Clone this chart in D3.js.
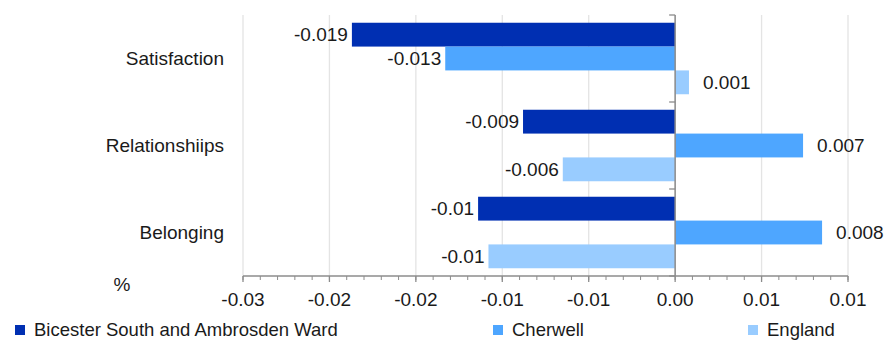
<!DOCTYPE html>
<html>
<head>
<meta charset="utf-8">
<script src="https://cdn.jsdelivr.net/npm/d3@7"></script>
<style>
  html, body { margin: 0; padding: 0; background: #fff; }
  svg { display: block; font-family: "Liberation Sans", Arial, sans-serif; }
</style>
</head>
<body>
<svg id="chart" width="886" height="342"></svg>
<script>
const categories = ["Satisfaction", "Relationshiips", "Belonging"];
const seriesNames = ["Bicester South and Ambrosden Ward", "Cherwell", "England"];
const wardValues = [-0.0187, -0.0088, -0.0114];
const cherwellValues = [-0.0133, 0.0074, 0.0085];
const englandValues = [0.0008, -0.0065, -0.0108];
const wardLabels = ["-0.019", "-0.009", "-0.01"];
const cherwellLabels = ["-0.013", "0.007", "0.008"];
const englandLabels = ["0.001", "-0.006", "-0.01"];
const tickValues = [-0.025, -0.02, -0.015, -0.01, -0.005, 0, 0.005, 0.01];
const tickLabels = ["-0.03", "-0.02", "-0.02", "-0.01", "-0.01", "0.00", "0.01", "0.01"];
const colors = ["#002FB2", "#4EA6FF", "#99CCFF"];

const FS = 19;
const svg = d3.select("#chart");
const plot = { left: 243, right: 848, top: 15, bottom: 276 };

const x = d3.scaleLinear().domain([-0.025, 0.01]).range([plot.left, plot.right]);
const y0 = d3.scaleBand().domain(categories).range([plot.top, plot.bottom]).padding(0);
const bw = y0.bandwidth();
const y1 = d3.scaleBand().domain(seriesNames).range([bw * 0.089, bw * 0.911]).padding(0);

const series = [
  { name: seriesNames[0], values: wardValues, labels: wardLabels, color: colors[0] },
  { name: seriesNames[1], values: cherwellValues, labels: cherwellLabels, color: colors[1] },
  { name: seriesNames[2], values: englandValues, labels: englandLabels, color: colors[2] }
];

// gridlines
svg.append("g").selectAll("line").data(tickValues).join("line")
  .attr("x1", d => x(d)).attr("x2", d => x(d))
  .attr("y1", plot.top).attr("y2", plot.bottom)
  .attr("stroke", "#e4e4e4").attr("stroke-width", 1.3);

// bars
const rows = [];
series.forEach(s => s.values.forEach((v, i) => rows.push({ s, cat: categories[i], v, label: s.labels[i] })));

svg.append("g").selectAll("rect").data(rows).join("rect")
  .attr("x", d => Math.min(x(0), x(d.v)))
  .attr("width", d => Math.abs(x(d.v) - x(0)))
  .attr("y", d => y0(d.cat) + y1(d.s.name))
  .attr("height", y1.bandwidth())
  .attr("fill", d => d.s.color);

// value labels
svg.append("g").selectAll("text").data(rows).join("text")
  .attr("x", d => d.v < 0 ? x(d.v) - 4 : x(d.v) + 14)
  .attr("y", d => y0(d.cat) + y1(d.s.name) + y1.bandwidth() / 2)
  .attr("dy", "0.35em")
  .attr("text-anchor", d => d.v < 0 ? "end" : "start")
  .attr("font-size", FS).attr("fill", "#1a1a1a")
  .text(d => d.label);

// x axis
const xAxis = svg.append("g").attr("transform", `translate(0,${plot.bottom})`);
xAxis.append("line").attr("x1", plot.left).attr("x2", plot.right).attr("stroke", "#8c8c8c").attr("stroke-width", 1.5);
const minor = d3.range(-25, 11).map(k => k / 1000);
xAxis.selectAll("line.minor").data(minor).join("line").attr("class", "minor")
  .attr("x1", d => x(d)).attr("x2", d => x(d)).attr("y1", 0).attr("y2", 4)
  .attr("stroke", "#8c8c8c").attr("stroke-width", 1);
xAxis.selectAll("line.major").data(tickValues).join("line").attr("class", "major")
  .attr("x1", d => x(d)).attr("x2", d => x(d)).attr("y1", 0).attr("y2", 6)
  .attr("stroke", "#8c8c8c").attr("stroke-width", 1.3);
xAxis.selectAll("text").data(tickValues).join("text")
  .attr("x", d => x(d)).attr("y", 23).attr("dy", "0.35em")
  .attr("text-anchor", "middle").attr("font-size", FS).attr("fill", "#1a1a1a")
  .text((d, i) => tickLabels[i]);

// y axis at zero
const yAxis = svg.append("g");
yAxis.append("line").attr("x1", x(0)).attr("x2", x(0)).attr("y1", plot.top).attr("y2", plot.bottom)
  .attr("stroke", "#8c8c8c").attr("stroke-width", 1.5);
const bounds = categories.map(c => y0(c)).concat([plot.bottom]);
yAxis.selectAll("line.t").data(bounds).join("line").attr("class", "t")
  .attr("x1", x(0) - 6).attr("x2", x(0)).attr("y1", d => d).attr("y2", d => d)
  .attr("stroke", "#8c8c8c").attr("stroke-width", 1.3);

// category labels
svg.append("g").selectAll("text").data(categories).join("text")
  .attr("x", 224).attr("y", d => y0(d) + bw / 2).attr("dy", "0.35em")
  .attr("text-anchor", "end").attr("font-size", FS).attr("fill", "#1a1a1a")
  .text(d => d);

// unit label
svg.append("text").attr("x", 122).attr("y", 284).attr("dy", "0.35em")
  .attr("text-anchor", "middle").attr("font-size", FS).attr("fill", "#1a1a1a").text("%");

// legend
const legendX = [15, 493, 748];
const legend = svg.append("g").selectAll("g").data(series).join("g")
  .attr("transform", (d, i) => `translate(${legendX[i]},330)`);
legend.append("rect").attr("x", 0).attr("y", -5).attr("width", 10).attr("height", 10).attr("fill", d => d.color);
legend.append("text").attr("x", 19).attr("y", 0).attr("dy", "0.35em")
  .attr("font-size", 18.5).attr("fill", "#1a1a1a").text(d => d.name);
</script>
</body>
</html>
